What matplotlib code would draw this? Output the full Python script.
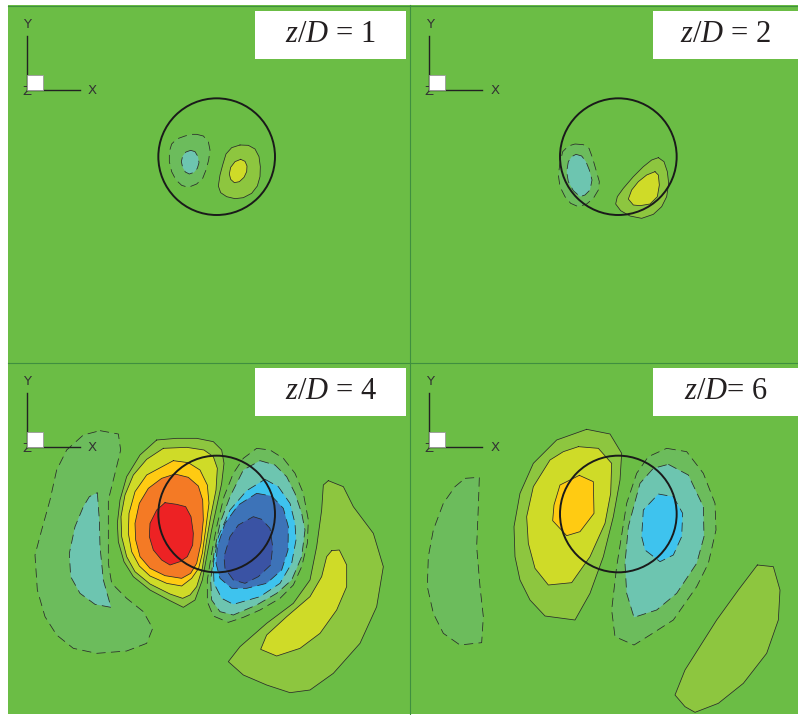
import matplotlib
matplotlib.use('Agg')
import matplotlib.pyplot as plt
from matplotlib.patches import Circle, Rectangle

plt.rcParams['mathtext.fontset'] = 'custom'
plt.rcParams['mathtext.it'] = 'Liberation Serif:italic'
plt.rcParams['mathtext.rm'] = 'Liberation Serif'

W, H = 798, 715

# level colours
BG = '#6BBD45'
P1, P2, P3, P4, P5 = '#8DC63F', '#CFDB28', '#FFCB12', '#F47A25', '#ED2224'
N1, N2, N3, N4, N5 = '#6CBC5C', '#6DC5B0', '#3EC3EE', '#3D73B8', '#3A53A4'

# contour outlines, 3x pixels inside each crop
z1_neg1 = [(590,403),(610,408),(625,425),(630,450),(626,480),(618,510),(608,535),(590,552),(565,562),(545,556),(528,540),(515,515),(508,485),(508,455),(515,432),(530,417),(555,408),(575,403)]
z1_neg2 = [(572,451),(585,455),(594,470),(597,488),(592,505),(582,517),(568,522),(556,516),(548,502),(544,485),(548,468),(558,456)]
z1_pos1 = [(720,435),(745,436),(765,447),(777,470),(781,500),(780,530),(772,558),(755,580),(730,593),(705,596),(680,590),(662,578),(655,558),(660,525),(668,495),(678,462),(695,443)]
z1_pos2 = [(722,478),(735,484),(741,498),(740,515),(732,532),(718,545),(703,548),(692,538),(688,522),(692,502),(705,485)]

z2_neg1 = [(495,432),(520,434),(537,445),(548,475),(558,510),(568,545),(565,570),(550,595),(530,612),(505,620),(482,610),(465,590),(450,560),(445,525),(450,490),(458,455),(475,438)]
z2_neg2 = [(498,463),(515,468),(528,485),(538,510),(546,540),(540,570),(525,585),(510,590),(490,572),(475,545),(470,515),(475,485),(485,470)]
z2_pos1 = [(745,473),(762,485),(772,515),(776,550),(770,590),(755,620),(730,643),(695,655),(660,648),(632,632),(617,612),(622,590),(640,565),(670,530),(700,500),(725,480)]
z2_pos2 = [(735,515),(745,525),(748,555),(742,590),(720,612),(690,617),(670,615),(655,597),(665,570),(685,545),(710,525)]

z4_left1 = [(300,212),(355,222),(362,270),(345,340),(325,420),(325,520),(325,610),(335,670),(380,715),(430,755),(458,805),(440,850),(380,873),(290,880),(220,865),(170,825),(135,770),(112,690),(105,585),(125,510),(150,420),(170,330),(200,270),(250,225)]
z4_left2 = [(292,398),(298,480),(300,560),(310,660),(333,742),(285,733),(240,700),(212,650),(208,580),(225,500),(250,440),(268,410)]
z4_pos1 = [(470,240),(530,235),(590,235),(640,245),(665,270),(672,310),(665,370),(650,440),(635,510),(620,590),(607,660),(585,720),(550,742),(510,722),(450,690),(400,650),(372,605),(355,545),(352,490),(360,420),(380,350),(420,285)]
z4_pos2 = [(490,265),(560,262),(612,270),(640,290),(652,325),(648,390),(632,470),(620,540),(607,625),(590,680),(570,705),(548,715),(510,702),(450,672),(405,635),(380,590),(365,530),(363,470),(375,405),(400,345),(440,298)]
z4_pos3 = [(520,302),(565,308),(600,330),(622,375),(627,430),(618,500),(607,580),(596,625),(575,655),(545,678),(500,670),(450,648),(418,618),(395,575),(385,520),(387,460),(405,395),(440,345)]
z4_pos4 = [(525,342),(565,352),(595,378),(608,420),(610,480),(603,550),(590,610),(572,640),(545,655),(495,647),(450,625),(420,590),(407,540),(405,490),(418,430),(445,385),(485,355)]
z4_pos5 = [(495,428),(530,433),(557,440),(573,470),(580,520),(578,555),(562,590),(540,605),(510,615),(485,600),(460,570),(448,530),(450,490),(470,450)]
z4_neg1 = [(770,265),(810,270),(850,295),(885,340),(910,400),(925,480),(922,550),(905,620),(880,675),(840,715),(780,750),(730,772),(685,787),(640,768),(622,725),(622,660),(635,580),(650,500),(672,410),(700,340),(730,295)]
z4_neg2 = [(780,302),(825,315),(860,350),(885,400),(905,460),(915,510),(905,590),(875,660),(830,700),(770,735),(700,765),(660,755),(635,720),(632,660),(642,580),(660,490),(690,410),(730,330)]
z4_neg3 = [(795,358),(835,380),(870,430),(885,490),(888,540),(875,610),(840,670),(780,710),(700,733),(665,715),(642,670),(640,610),(655,530),(690,450),(740,392)]
z4_neg4 = [(770,400),(815,408),(850,445),(865,500),(864,570),(845,630),(800,670),(740,685),(695,685),(660,655),(648,610),(652,560),(675,490),(715,435)]
z4_neg5 = [(760,470),(785,478),(810,505),(818,560),(812,615),(775,650),(735,670),(700,660),(675,625),(672,590),(690,530),(715,495)]
z4_low1 = [(985,362),(1030,380),(1060,440),(1120,520),(1150,620),(1130,740),(1080,850),(1000,940),(930,990),(870,998),(800,975),(730,945),(685,905),(720,860),(800,790),(880,730),(930,660),(950,560),(965,450),(970,375)]
z4_low2 = [(995,572),(1018,570),(1040,615),(1040,680),(1010,750),(960,820),(900,865),(830,888),(782,868),(800,825),(860,770),(930,710),(965,650),(980,590)]

z6_left = [(165,355),(208,352),(205,440),(200,560),(210,680),(220,770),(215,848),(150,855),(100,820),(70,760),(52,680),(55,590),(70,510),(100,430),(135,380)]
z6_pos1 = [(530,208),(600,222),(635,280),(630,360),(610,470),(580,590),(540,700),(495,780),(405,768),(360,720),(330,660),(315,590),(312,500),(330,400),(370,310),(440,240)]
z6_pos2 = [(505,260),(565,265),(605,310),(602,400),(585,490),(540,590),(485,668),(415,675),(375,625),(355,550),(350,470),(370,380),(420,300),(460,275)]
z6_pos3 = [(508,346),(550,365),(552,460),(510,515),(470,527),(428,482),(432,435),(450,375)]
z6_neg1 = [(770,265),(830,275),(880,340),(915,430),(918,510),(895,610),(860,680),(790,780),(720,825),(672,855),(615,830),(605,750),(620,620),(650,430),(680,340),(715,290)]
z6_neg2 = [(775,313),(835,345),(880,440),(882,530),(860,610),(800,700),(740,750),(672,772),(650,700),(645,610),(655,500),(690,370),(730,325)]
z6_neg3 = [(745,402),(790,410),(818,460),(815,530),(790,585),(750,605),(705,570),(695,530),(700,450)]
z6_low = [(1042,615),(1090,620),(1110,690),(1105,780),(1070,880),(1000,970),(925,1030),(855,1057),(825,1040),(795,1005),(825,930),(920,780),(985,690)]

z1_levels = [(z1_neg1, N1, 'n'), (z1_neg2, N2, 'n'), (z1_pos1, P1, 'p'), (z1_pos2, P2, 'p')]
z2_levels = [(z2_neg1, N1, 'n'), (z2_neg2, N2, 'n'), (z2_pos1, P1, 'p'), (z2_pos2, P2, 'p')]
z4_levels = [(z4_left1, N1, 'n'), (z4_left2, N2, 'n'),
             (z4_neg1, N1, 'n'), (z4_neg2, N2, 'n'), (z4_neg3, N3, 'n'), (z4_neg4, N4, 'n'), (z4_neg5, N5, 'n'),
             (z4_pos1, P1, 'p'), (z4_pos2, P2, 'p'), (z4_pos3, P3, 'p'), (z4_pos4, P4, 'p'), (z4_pos5, P5, 'p'),
             (z4_low1, P1, 'p'), (z4_low2, P2, 'p')]
z6_levels = [(z6_left, N1, 'n'),
             (z6_pos1, P1, 'p'), (z6_pos2, P2, 'p'), (z6_pos3, P3, 'p'),
             (z6_neg1, N1, 'n'), (z6_neg2, N2, 'n'), (z6_neg3, N3, 'n'),
             (z6_low, P1, 'p')]

labels = ['$z/D$ = 1', '$z/D$ = 2', '$z/D$ = 4', '$z/D$= 6']

fig = plt.figure(figsize=(W/100, H/100), dpi=100, facecolor='white')


def panel(px, crop, levels, centre, label, ybox, xbox, xo):
    # px = left, top, right, bottom of the panel in figure pixels
    l, t, r, b = px
    ax = fig.add_axes([l/W, 1-b/H, (r-l)/W, (b-t)/H])
    ax.set_xlim((l-crop[0])*3, (r-crop[0])*3)
    ax.set_ylim((b-crop[1])*3, (t-crop[1])*3)
    ax.set_facecolor(BG)
    ax.set_xticks([])
    ax.set_yticks([])
    for s in ax.spines.values():
        s.set_visible(False)

    for pts, col, kind in levels:
        xs = [p[0] for p in pts] + [pts[0][0]]
        ys = [p[1] for p in pts] + [pts[0][1]]
        ax.fill(xs, ys, color=col, lw=0, zorder=2)
        ls = '-' if kind == 'p' else (0, (12, 7))
        ax.plot(xs, ys, color='#2a2a2a', lw=0.55, ls=ls, zorder=3, solid_joinstyle='round')

    ax.add_patch(Circle(centre, 175, fc='none', ec='#1a1a1a', lw=1.4, zorder=5))

    # axis triad
    ay = ybox[0] + 237
    ax.plot([xo, xo], [ay-162, ay], color='#222222', lw=1.0, zorder=6)
    ax.plot([xo, xo+160], [ay, ay], color='#222222', lw=1.0, zorder=6)
    ax.add_patch(Rectangle((xo, ay-47), 49, 47, fc='white', ec='#999999', lw=0.6, zorder=7))
    ax.text(xo+2, ay-197, 'Y', fontsize=9.5, color='#333333', ha='center', va='center', zorder=8)
    ax.text(xo+198, ay, 'X', fontsize=9.5, color='#333333', ha='center', va='center', zorder=8)
    ax.text(xo+1, ay+3, 'Z', fontsize=9.5, color='#333333', ha='center', va='center', zorder=6)

    # label box
    ax.add_patch(Rectangle((xbox[0], ybox[0]), xbox[1]-xbox[0], ybox[1]-ybox[0],
                           fc='white', ec='none', zorder=9))
    ax.text((xbox[0]+xbox[1])/2, (ybox[0]+ybox[1])/2 - 1, label, fontsize=22,
            family='Liberation Serif', color='#231F20', ha='center', va='center', zorder=10)


panel((8, 5, 410, 363), (0, 0), z1_levels, (650, 470), labels[0], (34, 177), (765, 1218), 80)
panel((410, 5, 798, 363), (410, 0), z2_levels, (625, 470), labels[1], (34, 177), (729, 1164), 57)
panel((8, 363, 410, 714), (0, 360), z4_levels, (650, 462), labels[2], (25, 167), (765, 1218), 80)
panel((410, 363, 798, 714), (410, 360), z6_levels, (625, 462), labels[3], (25, 167), (729, 1164), 57)

# panel separators
fig.add_artist(plt.Line2D([8/W, 1], [1-5.5/H, 1-5.5/H], color='#3F8F3F', lw=0.8))
fig.add_artist(plt.Line2D([8/W, 1], [1-362.5/H, 1-362.5/H], color='#3F8F3F', lw=0.8))
fig.add_artist(plt.Line2D([409.5/W, 409.5/W], [1-714/H, 1-5/H], color='#3F8F3F', lw=0.8))

fig.savefig('out.png', dpi=100)
